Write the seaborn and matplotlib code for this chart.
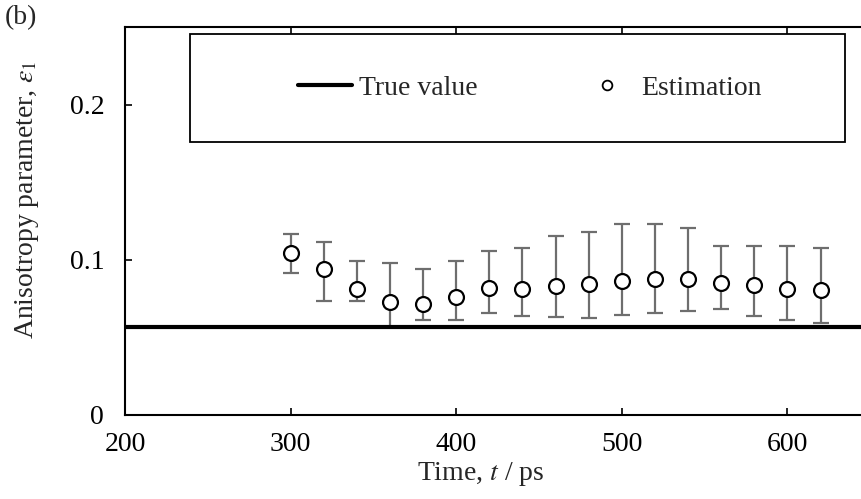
import numpy as np
import pandas as pd
import matplotlib
matplotlib.use("Agg")
import matplotlib.pyplot as plt
import seaborn as sns
from matplotlib.lines import Line2D
from matplotlib.patches import Rectangle

# ---- data ----
time_ps = [300, 320, 340, 360, 380, 400, 420, 440, 460, 480, 500, 520, 540, 560, 580, 600, 620]
estimation = [0.1046, 0.0939, 0.0814, 0.0728, 0.0717, 0.0762, 0.0816, 0.0812, 0.0833, 0.0842,
              0.0861, 0.0876, 0.0878, 0.0849, 0.0836, 0.0814, 0.0803]
err_upper = [0.1164, 0.1117, 0.0992, 0.0977, 0.0943, 0.0994, 0.1057, 0.1074, 0.1153, 0.1177,
             0.1231, 0.1229, 0.1205, 0.1089, 0.1089, 0.1089, 0.1074]
err_lower = [0.0915, 0.0735, 0.0735, 0.0570, 0.0614, 0.0614, 0.0655, 0.0638, 0.0634, 0.0627,
             0.0644, 0.0657, 0.0672, 0.0685, 0.0636, 0.0614, 0.0591]
true_value = 0.057
x_ticks = [200, 300, 400, 500, 600]
y_ticks = [0, 0.1, 0.2]
y_tick_labels = ["0", "0.1", "0.2"]

df = pd.DataFrame({"t": time_ps, "eps": estimation})

sns.set_theme(style="ticks")
plt.rcParams["font.family"] = ["Liberation Serif", "DejaVu Serif"]
plt.rcParams["mathtext.fontset"] = "stix"
FS = 20

fig = plt.figure(figsize=(8.62, 4.99), dpi=100)
ax = fig.add_axes([125 / 862, 84 / 499, 737 / 862, 388 / 499])

est = np.array(estimation)
yerr = np.vstack([est - np.array(err_lower), np.array(err_upper) - est])
ax.errorbar(time_ps, estimation, yerr=yerr, fmt="none", ecolor="#6e6e6e",
            elinewidth=1.6, capsize=5.5, capthick=1.6, zorder=2)
ax.axhline(true_value, color="black", lw=3, zorder=3)
sns.scatterplot(data=df, x="t", y="eps", ax=ax, marker="o", s=115,
                facecolor="white", edgecolor="black", linewidth=1.6, zorder=4, legend=False)

ax.set_xlim(200, 645)
ax.set_ylim(0, 0.25)
ax.set_xticks(x_ticks)
ax.set_yticks(y_ticks)
ax.set_yticklabels(y_tick_labels)
ax.tick_params(axis="both", direction="in", length=5, width=1.2, labelsize=FS, top=True, colors="black")
ax.tick_params(axis="x", pad=12)
ax.tick_params(axis="y", pad=15)
for s in ["left", "bottom", "top"]:
    ax.spines[s].set_linewidth(1.5)
    ax.spines[s].set_color("black")
ax.spines["right"].set_visible(False)

ax.set_xlabel("Time, $t$ / ps", fontsize=FS)
ax.xaxis.set_label_coords((481 - 125) / 737, -0.117)
ax.set_ylabel(r"Anisotropy parameter, $\varepsilon_1$", fontsize=FS)
ax.yaxis.set_label_coords(-0.114, (415 - 200) / 388)

# legend frame box
ax.add_patch(Rectangle((0.0882, 0.7036), 0.8887, 0.2784, transform=ax.transAxes,
                       facecolor="white", edgecolor="black", lw=1.3, zorder=5))
handles = [Line2D([0], [0], color="black", lw=3),
           Line2D([0], [0], marker="o", ls="none", markersize=7, markerfacecolor="white",
                  markeredgecolor="black", markeredgewidth=1.3)]
leg = ax.legend(handles, ["True value", "Estimation"], ncol=2, loc="center",
                bbox_to_anchor=(0.5495, 0.843), fontsize=FS, frameon=False,
                handlelength=1.94, handletextpad=0.25, columnspacing=3.7, borderpad=0,
                borderaxespad=0)
leg.set_zorder(6)

fig.text(0.005, 0.99, "(b)", fontsize=FS, ha="left", va="top")

fig.savefig("out.png", dpi=100)
